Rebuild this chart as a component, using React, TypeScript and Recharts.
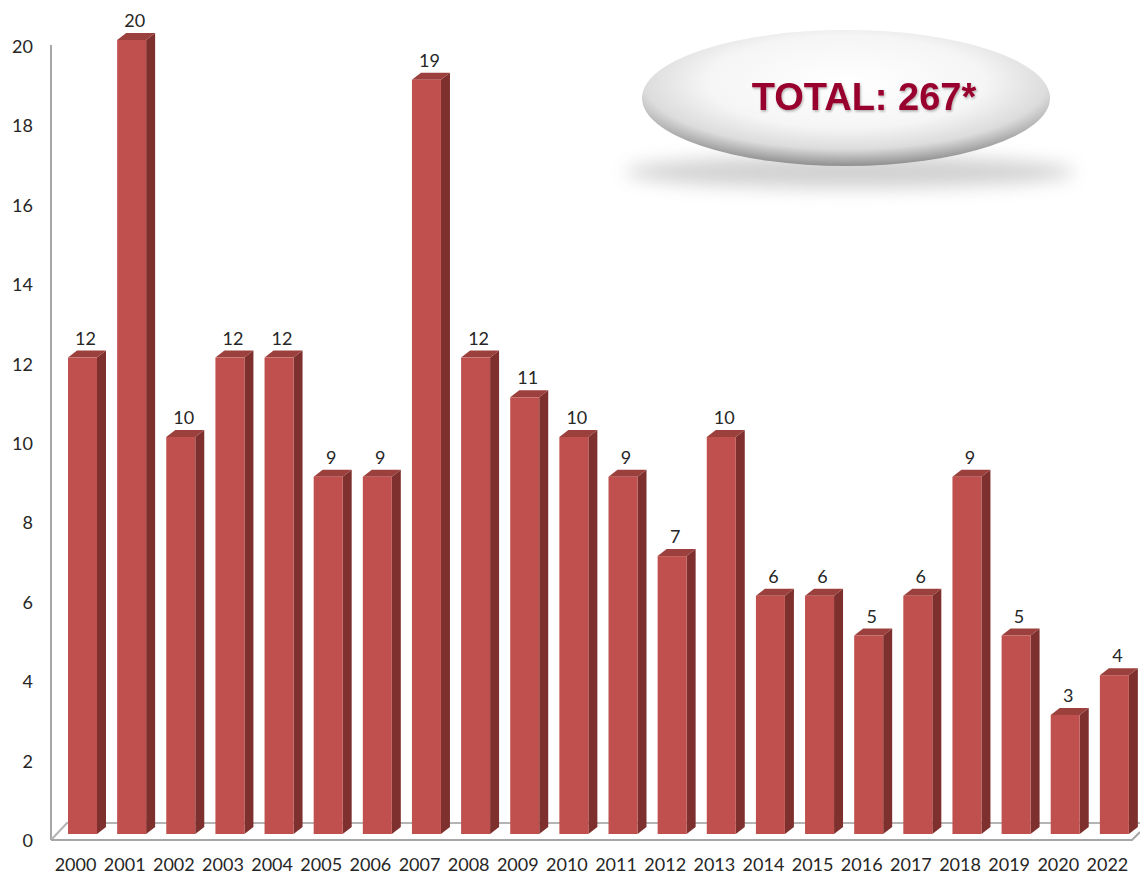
import React from 'react';
import { BarChart, Bar, XAxis, YAxis, LabelList } from 'recharts';

const YEARS = ['2000', '2001', '2002', '2003', '2004', '2005', '2006', '2007', '2008', '2009', '2010',
  '2011', '2012', '2013', '2014', '2015', '2016', '2017', '2018', '2019', '2020', '2022'];
const COUNTS = [12, 20, 10, 12, 12, 9, 9, 19, 12, 11, 10, 9, 7, 10, 6, 6, 5, 6, 9, 5, 3, 4];
const Y_TICKS = [0, 2, 4, 6, 8, 10, 12, 14, 16, 18, 20];
const TOTAL_LABEL = 'TOTAL: 267*';

const data = YEARS.map((year, i) => ({ year, count: COUNTS[i] }));

const FONT = 'Lato, "Open Sans", sans-serif';
const FRONT_W = 29;
const DX = 9;
const DY = 7;

// fake 3D column: front face, dark side, mid top
function Column3D(props: any) {
  const { x, y, height } = props;
  if (height == null || height <= 0) return null;
  const fx = x;
  const bx = x + FRONT_W;
  return (
    <g>
      <polygon
        points={`${bx},${y} ${bx + DX},${y - DY} ${bx + DX},${y + height - DY} ${bx},${y + height}`}
        fill="#7D302E"
      />
      <polygon
        points={`${fx},${y} ${fx + DX},${y - DY} ${bx + DX},${y - DY} ${bx},${y}`}
        fill="#9C403D"
      />
      <rect x={fx} y={y} width={FRONT_W} height={height} fill="#C0504D" />
    </g>
  );
}

function ValueLabel(props: any) {
  const { x, y, value } = props;
  return (
    <text
      x={x + FRONT_W / 2 + 3}
      y={y - 20}
      textAnchor="middle"
      dominantBaseline="central"
      fontFamily={FONT}
      fontSize={18}
      fill="#262626"
    >
      {value}
    </text>
  );
}

function YTick(props: any) {
  const { y, payload } = props;
  return (
    <text x={33} y={y + 6} textAnchor="end" dominantBaseline="central" fontFamily={FONT} fontSize={18} fill="#262626">
      {payload.value}
    </text>
  );
}

function XTick(props: any) {
  const { x, payload } = props;
  return (
    <text x={x - 11} y={864} textAnchor="middle" dominantBaseline="central" fontFamily={FONT} fontSize={18} fill="#262626">
      {payload.value}
    </text>
  );
}

export default function App() {
  return (
    <div style={{ position: 'absolute', left: 0, top: 0, width: 1140, height: 875, overflow: 'hidden', background: '#fff' }}>
      {/* back wall edge + floor */}
      <svg width={1140} height={875} style={{ position: 'absolute', left: 0, top: 0 }}>
        <line x1={51} y1={45} x2={51} y2={840} stroke="#a6a6a6" strokeWidth={2} />
        <polyline points="51,840 67,823 1140,823" fill="none" stroke="#b4b4b4" strokeWidth={2} />
        <polyline points="51,840 1132,840 1140,832" fill="none" stroke="#a6a6a6" strokeWidth={2} />
      </svg>
      <div style={{ position: 'absolute', left: 0, top: 0 }}>
        <BarChart width={1143} height={875} data={data} margin={{ top: 40, right: 0, left: 0, bottom: 0 }}>
          <XAxis dataKey="year" axisLine={false} tickLine={false} height={41} interval={0} tick={<XTick />} />
          <YAxis domain={[0, 20]} ticks={Y_TICKS} interval={0} width={62} axisLine={false} tickLine={false} tick={<YTick />} />
          <Bar dataKey="count" barSize={38} shape={<Column3D />} isAnimationActive={false}>
            <LabelList dataKey="count" content={<ValueLabel />} />
          </Bar>
        </BarChart>
      </div>
      <svg width={1140} height={875} style={{ position: 'absolute', left: 0, top: 0, pointerEvents: 'none' }}>
        <defs>
          <radialGradient id="pill" cx="50%" cy="38%" r="62%">
            <stop offset="0" stopColor="#ffffff" />
            <stop offset="0.55" stopColor="#f5f5f5" />
            <stop offset="0.8" stopColor="#dcdcdc" />
            <stop offset="1" stopColor="#8f8f8f" />
          </radialGradient>
          <filter id="blur" x="-20%" y="-100%" width="140%" height="300%">
            <feGaussianBlur stdDeviation="9" />
          </filter>
          <filter id="tshadow" x="-10%" y="-30%" width="120%" height="160%">
            <feDropShadow dx="1" dy="1.5" stdDeviation="1" floodColor="#000" floodOpacity="0.3" />
          </filter>
        </defs>
        <ellipse cx={850} cy={172} rx={225} ry={16} fill="#9a9a9a" opacity={0.45} filter="url(#blur)" />
        <ellipse cx={846} cy={98} rx={204} ry={68} fill="url(#pill)" />
        <text
          x={864}
          y={110}
          textAnchor="middle"
          fontFamily='"Liberation Sans", Arial, sans-serif'
          fontWeight="bold"
          fontSize={38}
          fill="#98002E"
          filter="url(#tshadow)"
        >
          {TOTAL_LABEL}
        </text>
      </svg>
    </div>
  );
}
